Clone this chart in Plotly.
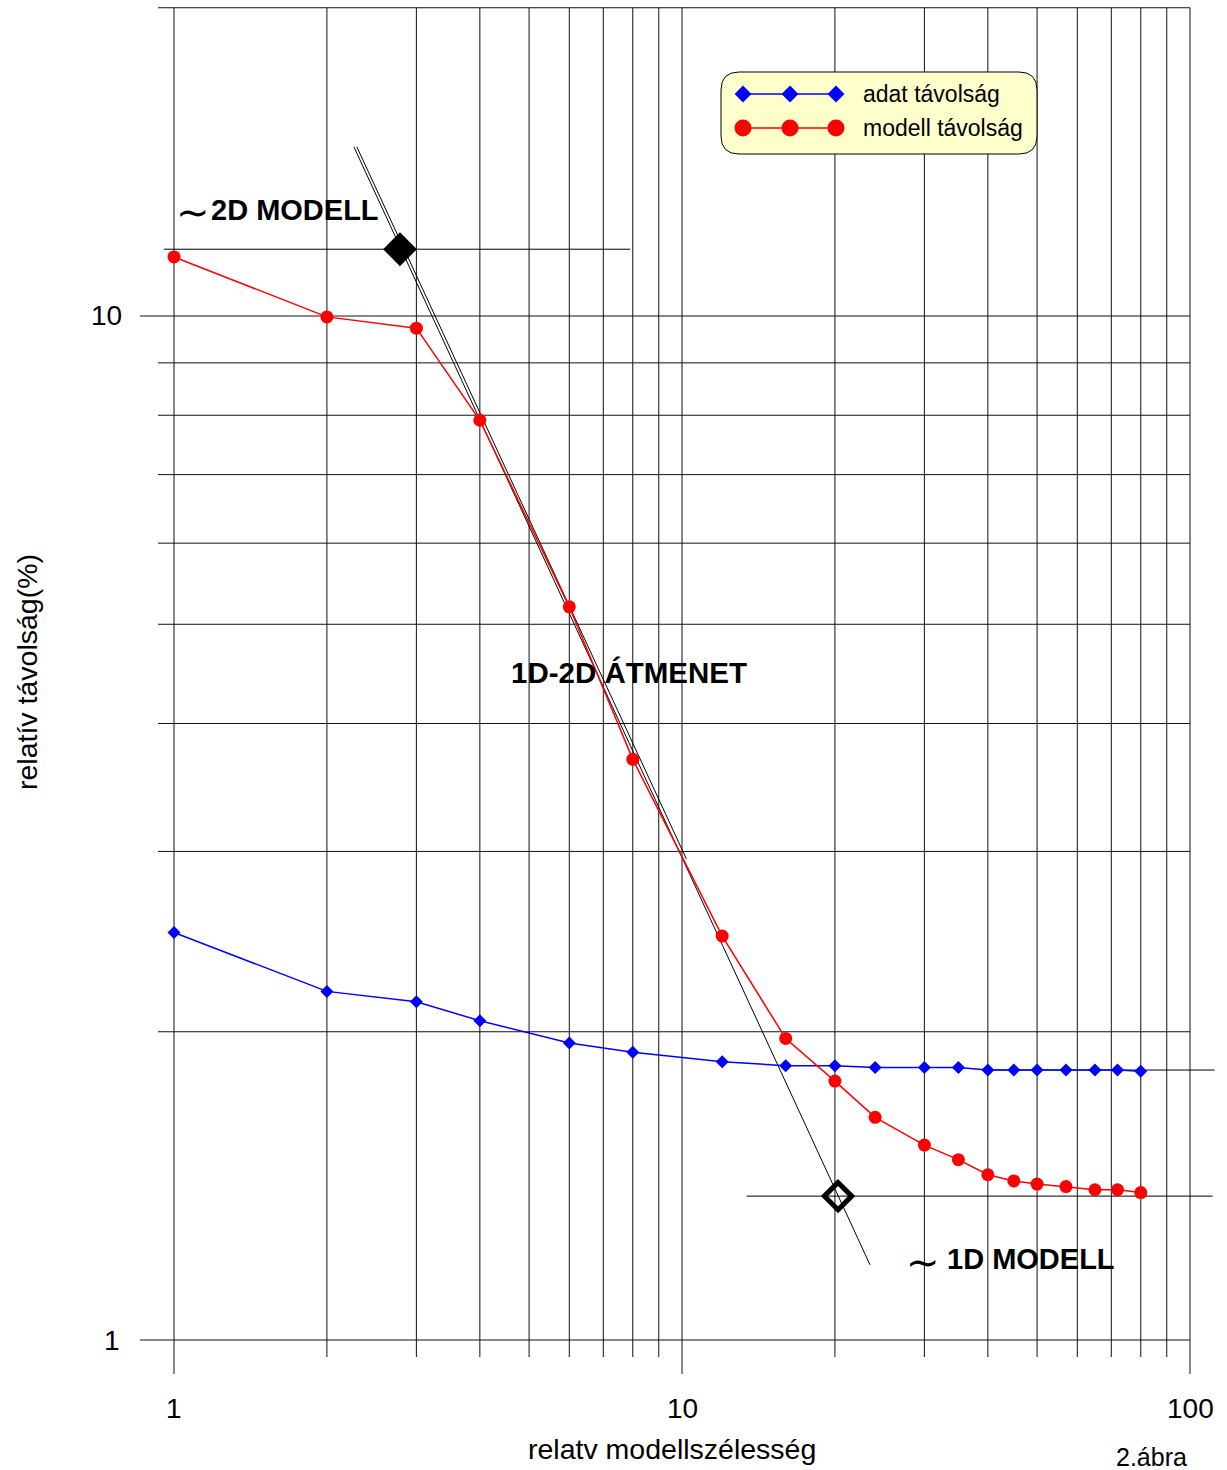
import math
import plotly.graph_objects as go

# ---- data -------------------------------------------------------------
szelesseg = [1, 2, 3, 4, 6, 8, 12, 16, 20, 24, 30, 35, 40, 45, 50, 57, 65, 72, 80]
adat_tavolsag = [2.50, 2.19, 2.14, 2.05, 1.95, 1.91, 1.87, 1.853, 1.853, 1.845,
                 1.845, 1.845, 1.835, 1.835, 1.835, 1.835, 1.835, 1.835, 1.83]
modell_tavolsag = [11.42, 9.98, 9.73, 7.91, 5.20, 3.69, 2.48, 1.97, 1.79, 1.65,
                   1.55, 1.50, 1.45, 1.43, 1.42, 1.412, 1.402, 1.402, 1.393]

# transition (tangent) lines and the two limiting model levels
atmenet_x1 = [2.26, 23.45]
atmenet_y1 = [14.63, 1.184]
atmenet_x2 = [2.29, 10.2]
atmenet_y2 = [14.63, 2.95]
modell_2d = 11.62          # ~2D level
modell_2d_x = 2.785        # intersection with transition line
modell_1d = 1.382          # ~1D level
modell_1d_x = 20.28
adat_szint = 1.835         # asymptotic data level

x_ticks = [1, 10, 100]
y_ticks = [1, 10]
x_grid = [1, 2, 3, 4, 5, 6, 7, 8, 9, 10, 20, 30, 40, 50, 60, 70, 80, 90, 100]
y_grid = [1, 2, 3, 4, 5, 6, 7, 8, 9, 10, 20]

# ---- geometry -----------------------------------------------------------
W, H = 1227, 1470
ML, MR, MT, MB = 130, 7, 0, 90
X_ONE_PX, X_DEC_PX = 174, 508      # pixel of x=1, pixels per decade
Y_ONE_PX, Y_DEC_PX = 1340, 1024    # pixel of y=1, pixels per decade
x_range = [(ML - X_ONE_PX) / X_DEC_PX, (W - MR - X_ONE_PX) / X_DEC_PX]
y_range = [(Y_ONE_PX - (H - MB)) / Y_DEC_PX, (Y_ONE_PX - MT) / Y_DEC_PX]

FONT = "Arial, 'Liberation Sans', sans-serif"
BLUE = "#0000FF"
RED = "#FF0000"


def px_x(v):
    """log-axis value -> pixel column."""
    return X_ONE_PX + X_DEC_PX * math.log10(v)


def px_y(v):
    """log-axis value -> pixel row."""
    return Y_ONE_PX - Y_DEC_PX * math.log10(v)


def paper_x(p):
    return (p - ML) / (W - ML - MR)


def paper_y(p):
    return 1 - (p - MT) / (H - MT - MB)


fig = go.Figure()

# ---- grid (drawn as shapes so each line has its own extent) -------------
shapes = []
GRID_TOP = px_y(20)
for v in x_grid:
    major = v in x_ticks
    shapes.append(dict(type="line", xref="x", yref="y2", x0=v, x1=v,
                       y0=GRID_TOP, y1=Y_ONE_PX + (34 if major else 17),
                       line=dict(color="#111111", width=1), layer="below"))
for v in y_grid:
    major = v in y_ticks
    shapes.append(dict(type="line", xref="x2", yref="y", y0=v, y1=v,
                       x0=140 if major else 158, x1=px_x(100),
                       line=dict(color="#111111", width=1), layer="below"))

# legend box (rounded)
lx0, ly0, lx1, ly1, r = 721, 72, 1037, 154, 18
legend_path = (f"M {lx0+r},{ly0} L {lx1-r},{ly0} Q {lx1},{ly0} {lx1},{ly0+r} "
               f"L {lx1},{ly1-r} Q {lx1},{ly1} {lx1-r},{ly1} L {lx0+r},{ly1} "
               f"Q {lx0},{ly1} {lx0},{ly1-r} L {lx0},{ly0+r} Q {lx0},{ly0} {lx0+r},{ly0} Z")
shapes.append(dict(type="path", xref="x2", yref="y2", path=legend_path,
                   fillcolor="#FFFFCC", line=dict(color="#000000", width=1),
                   layer="below"))

# ---- reference lines ----------------------------------------------------
ref_line = dict(color="#000000", width=1)
fig.add_trace(go.Scatter(x=[0.956, 7.90], y=[modell_2d, modell_2d], mode="lines",
                         line=ref_line, hoverinfo="skip", showlegend=False))
fig.add_trace(go.Scatter(x=[13.4, 110.8], y=[modell_1d, modell_1d], mode="lines",
                         line=ref_line, hoverinfo="skip", showlegend=False))
fig.add_trace(go.Scatter(x=[40, 111.8], y=[adat_szint, adat_szint], mode="lines",
                         line=ref_line, hoverinfo="skip", showlegend=False))
fig.add_trace(go.Scatter(x=atmenet_x1, y=atmenet_y1, mode="lines",
                         line=ref_line, hoverinfo="skip", showlegend=False))
fig.add_trace(go.Scatter(x=atmenet_x2, y=atmenet_y2, mode="lines",
                         line=ref_line, hoverinfo="skip", showlegend=False))

# ---- data series --------------------------------------------------------
fig.add_trace(go.Scatter(x=szelesseg, y=adat_tavolsag, mode="lines+markers",
                         name="adat távolság",
                         line=dict(color=BLUE, width=1.5),
                         marker=dict(symbol="diamond", size=10, color=BLUE),
                         showlegend=False))
fig.add_trace(go.Scatter(x=szelesseg, y=modell_tavolsag, mode="lines+markers",
                         name="modell távolság",
                         line=dict(color=RED, width=1.5),
                         marker=dict(symbol="circle", size=13, color=RED),
                         showlegend=False))

# limiting-model markers
fig.add_trace(go.Scatter(x=[modell_2d_x], y=[modell_2d], mode="markers",
                         marker=dict(symbol="diamond", size=26, color="#000000"),
                         hoverinfo="skip", showlegend=False))
fig.add_trace(go.Scatter(x=[modell_1d_x], y=[modell_1d], mode="markers",
                         marker=dict(symbol="diamond-open", size=21, color="#000000",
                                     line=dict(width=5, color="#000000")),
                         hoverinfo="skip", showlegend=False))

# ---- legend keys (pixel overlay) ----------------------------------------
key_x = [743, 790, 836]
fig.add_trace(go.Scatter(x=key_x, y=[94] * 3, xaxis="x2", yaxis="y2",
                         mode="lines+markers", line=dict(color=BLUE, width=1.5),
                         marker=dict(symbol="diamond", size=13, color=BLUE),
                         hoverinfo="skip", showlegend=False))
fig.add_trace(go.Scatter(x=key_x, y=[128] * 3, xaxis="x2", yaxis="y2",
                         mode="lines+markers", line=dict(color=RED, width=1.5),
                         marker=dict(symbol="circle", size=17, color=RED),
                         hoverinfo="skip", showlegend=False))

annotations = []


def label(text, x, y, size, xanchor="left", bold=False, angle=0):
    """Place text at pixel position (x, y) of the page."""
    annotations.append(dict(text=f"<b>{text}</b>" if bold else text,
                            x=paper_x(x), y=paper_y(y),
                            xref="paper", yref="paper", showarrow=False,
                            xanchor=xanchor, yanchor="middle", textangle=angle,
                            font=dict(family=FONT, size=size, color="#000000")))


label("adat távolság", 861, 94, 23)
label("modell távolság", 861, 128, 23)

# tick labels
for v in x_ticks:
    label(str(v), px_x(v), 1408, 28, xanchor="center")
label("10", 124, px_y(10), 28, xanchor="right")
label("1", 122, px_y(1), 28, xanchor="right")

# axis titles and notes
label("relatv modellszélesség", 672, 1449, 28.5, xanchor="center")
label("relatív távolság(%)", 27, 672, 28.5, xanchor="center", angle=-90)
label("2.ábra", 1151, 1457, 25, xanchor="center")
label("∼", 193, 212, 40, xanchor="center")
label("2D MODELL", 209, 210, 29, bold=True)
label("1D-2D ÁTMENET", 509, 672, 29.5, bold=True)
label("∼", 923, 1262, 40, xanchor="center")
label("1D MODELL", 945, 1259, 29, bold=True)

fig.update_layout(
    width=W, height=H,
    margin=dict(l=ML, r=MR, t=MT, b=MB, pad=0),
    paper_bgcolor="#FFFFFF", plot_bgcolor="#FFFFFF",
    showlegend=False,
    shapes=shapes, annotations=annotations,
    xaxis=dict(type="log", range=x_range, showgrid=False, zeroline=False,
               showline=False, showticklabels=False, ticks=""),
    yaxis=dict(type="log", range=y_range, showgrid=False, zeroline=False,
               showline=False, showticklabels=False, ticks=""),
    xaxis2=dict(overlaying="x", anchor="y2", range=[ML, W - MR], visible=False),
    yaxis2=dict(overlaying="y", anchor="x2", range=[H - MB, MT], visible=False),
)

fig.write_html("out.html")
